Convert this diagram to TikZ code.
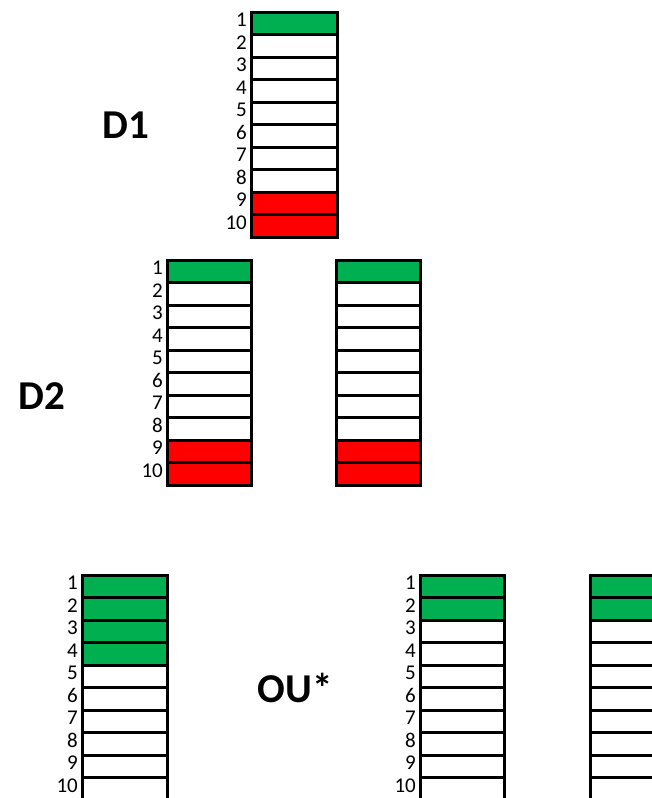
\documentclass[tikz,border=0pt]{standalone}
\usepackage{fontspec}
\setmainfont{Carlito}
\definecolor{cgreen}{HTML}{00B050}
\definecolor{cred}{HTML}{FF0000}
\tikzset{
  cell/.style={draw=black, line width=3pt, inner sep=0pt, outer sep=0pt, anchor=north west, minimum height=22.5pt},
  num/.style={font=\fontsize{21}{21}\selectfont, inner sep=0pt, anchor=base east},
  biglab/.style={font=\fontsize{41}{41}\selectfont\bfseries, inner sep=0pt}
}
\begin{document}
\begin{tikzpicture}[x=1pt,y=-1pt]
\useasboundingbox (0,0) rectangle (652,798);
\clip (0,0) rectangle (652,798);
\foreach \nm/\x/\w/\y/\g/\r/\lab in {D1/251/86/12/1/2/1, D2L/167/84/260/1/2/1, D2R/336/84/260/1/2/0, OUL/82/85/575/4/0/1, OUM/420/84/575/2/0/1, OUR/590/86/575/2/0/0}{
  \foreach \i in {1,...,10}{
    \ifnum\i>\g \def\fc{white}\else\def\fc{cgreen}\fi
    \ifnum\i>\numexpr10-\r\relax \def\fc{cred}\fi
    \node[cell, fill=\fc, minimum width=\w pt] (\nm-\i) at (\x, {\y+(\i-1)*22.5}) {};
    \ifnum\lab=1
      \node[num] (\nm-n\i) at ({\x-4}, {\y+(\i-1)*22.5+14.5}) {\i};
    \fi
  }
}
\node[biglab] (d1) at (126,125) {D1};
\node[biglab] (d2) at (42,396) {D2};
\node[biglab] (ou) at (295,688) {OU*};
\end{tikzpicture}
\end{document}
